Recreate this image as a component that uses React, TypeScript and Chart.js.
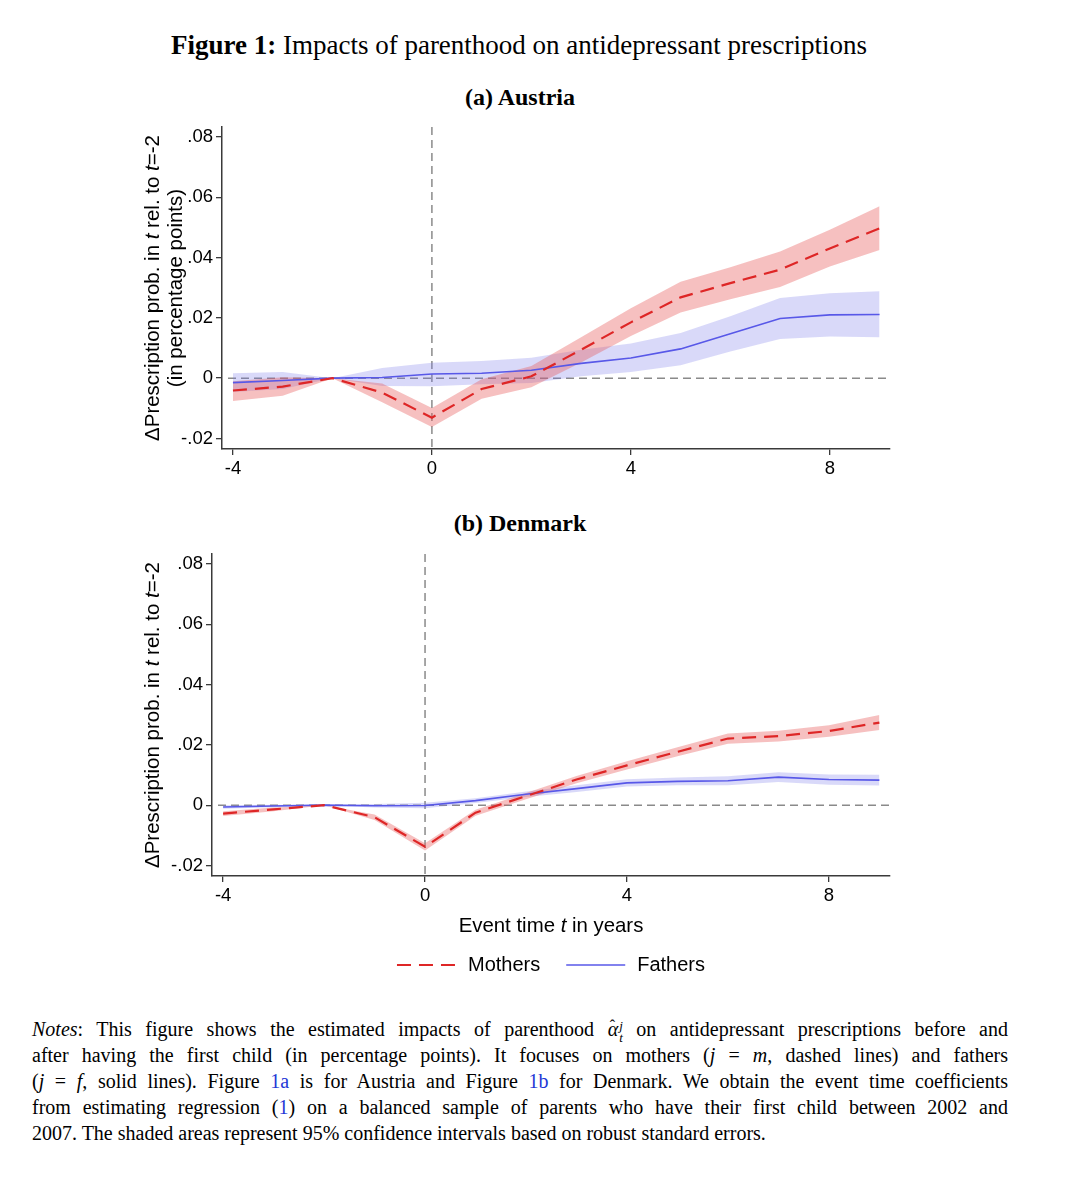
import React, { useEffect, useRef } from "react";
import { Chart, registerables } from "chart.js";

Chart.register(...registerables);

// ---------- data ----------
const eventTimes = [-4, -3, -2, -1, 0, 1, 2, 3, 4, 5, 6, 7, 8, 9];

const xTickValues = [-4, 0, 4, 8];
const xTickLabels = ["-4", "0", "4", "8"];
const yTickValues = [-0.02, 0, 0.02, 0.04, 0.06, 0.08];
const yTickLabels = ["-.02", "0", ".02", ".04", ".06", ".08"];
const xAxisRange = [-4.22, 9.21];
const yAxisRange = [-0.0235, 0.0833];
const referenceEventTime = 0;
const referenceDelta = 0;

const seriesNames = ["Mothers", "Fathers"];

// Austria
const austriaMothers = [-0.0041, -0.0028, 0, -0.0048, -0.0131, -0.0036, 0.0006, 0.0094, 0.0185, 0.0268, 0.0315, 0.036, 0.043, 0.0497];
const austriaMothersLow = [-0.0076, -0.0058, 0, -0.008, -0.0162, -0.0068, -0.003, 0.0052, 0.014, 0.0218, 0.0262, 0.0302, 0.037, 0.0425];
const austriaMothersHigh = [-0.001, 0.0003, 0, -0.0018, -0.0099, -0.0004, 0.004, 0.0136, 0.0232, 0.032, 0.0368, 0.042, 0.0492, 0.057];
const austriaFathers = [-0.0015, -0.0008, 0, 0.0002, 0.0014, 0.0016, 0.0026, 0.0049, 0.0067, 0.0097, 0.0147, 0.0198, 0.021, 0.0211];
const austriaFathersLow = [-0.0046, -0.0036, 0, -0.0026, -0.0027, -0.002, -0.0016, 0.0006, 0.002, 0.0043, 0.0088, 0.013, 0.0138, 0.0136];
const austriaFathersHigh = [0.0016, 0.002, 0, 0.0034, 0.0051, 0.0057, 0.0068, 0.0094, 0.0115, 0.015, 0.0205, 0.0266, 0.0282, 0.0288];

// Denmark
const denmarkMothers = [-0.0028, -0.0014, 0, -0.004, -0.0138, -0.0025, 0.003, 0.0085, 0.0132, 0.0177, 0.0221, 0.0229, 0.0246, 0.0274];
const denmarkMothersLow = [-0.0036, -0.002, 0, -0.0049, -0.015, -0.0035, 0.002, 0.0073, 0.0118, 0.0162, 0.0204, 0.0211, 0.0227, 0.0249];
const denmarkMothersHigh = [-0.002, -0.0008, 0, -0.0031, -0.0126, -0.0015, 0.004, 0.0097, 0.0146, 0.0192, 0.0238, 0.0247, 0.0265, 0.0299];
const denmarkFathers = [-0.0006, -0.0003, 0, -0.0002, -0.0001, 0.0015, 0.0036, 0.0055, 0.0074, 0.0079, 0.0081, 0.0093, 0.0085, 0.0083];
const denmarkFathersLow = [-0.0012, -0.0007, 0, -0.0008, -0.001, 0.0007, 0.0027, 0.0044, 0.0062, 0.0066, 0.0066, 0.0077, 0.0068, 0.0065];
const denmarkFathersHigh = [0.0, 0.0001, 0, 0.0004, 0.0008, 0.0023, 0.0045, 0.0066, 0.0086, 0.0092, 0.0096, 0.0109, 0.0102, 0.0101];

type Seg = { text: string; italic?: boolean };
const yTitleLine1: Seg[] = [
  { text: "\u0394Prescription prob. in " },
  { text: "t", italic: true },
  { text: " rel. to " },
  { text: "t", italic: true },
  { text: "=-2" },
];
const yTitleLine2: Seg[] = [{ text: "(in percentage points)" }];
const xTitle: Seg[] = [
  { text: "Event time " },
  { text: "t", italic: true },
  { text: " in years" },
];

// ---------- styles ----------
const SANS = "'Liberation Sans', Arial, Helvetica, sans-serif";
const SERIF = "'Liberation Serif', 'Times New Roman', serif";
const RED = "rgb(222, 38, 38)";
const RED_BAND = "rgba(232, 90, 90, 0.38)";
const BLUE = "rgb(88, 88, 232)";
const BLUE_BAND = "rgba(120, 120, 235, 0.28)";
const AXIS = "#3a3a3a";
const REF_GRAY = "#8a8a8a";
const LINK_BLUE = "#2438d6";

function segFont(size: number, italic?: boolean) {
  return `${italic ? "italic " : ""}${size}px ${SANS}`;
}

function drawSegments(ctx: CanvasRenderingContext2D, segs: Seg[], cx: number, cy: number, size: number) {
  let total = 0;
  const widths = segs.map((s) => {
    ctx.font = segFont(size, s.italic);
    const w = ctx.measureText(s.text).width;
    total += w;
    return w;
  });
  let x = cx - total / 2;
  ctx.textBaseline = "middle";
  ctx.textAlign = "left";
  ctx.fillStyle = "#000";
  segs.forEach((s, i) => {
    ctx.font = segFont(size, s.italic);
    ctx.fillText(s.text, x, cy);
    x += widths[i];
  });
}

type PanelSpec = {
  mothers: number[];
  mothersLow: number[];
  mothersHigh: number[];
  fathers: number[];
  fathersLow: number[];
  fathersHigh: number[];
  yTitleLines: Seg[][];
  yTitleX: number[];
  showXTitle: boolean;
  xTitleY: number;
  legendY: number;
  yAxisWidth: number;
  xAxisHeight: number;
  padding: { left: number; right: number; top: number; bottom: number };
};

function makePanelPlugin(spec: PanelSpec) {
  return {
    id: "panelDecor",
    beforeDatasetsDraw(chart: any) {
      const { ctx, chartArea: a, scales } = chart;
      const x0 = scales.x.getPixelForValue(referenceEventTime);
      const y0 = scales.y.getPixelForValue(referenceDelta);
      ctx.save();
      ctx.strokeStyle = REF_GRAY;
      ctx.lineWidth = 1.5;
      ctx.setLineDash([8, 5]);
      ctx.beginPath();
      ctx.moveTo(x0, a.top);
      ctx.lineTo(x0, a.bottom);
      ctx.stroke();
      ctx.beginPath();
      ctx.moveTo(a.left + 6, y0);
      ctx.lineTo(a.right, y0);
      ctx.stroke();
      ctx.restore();
    },
    afterDraw(chart: any) {
      const { ctx, chartArea: a } = chart;
      const midY = (a.top + a.bottom) / 2;
      ctx.save();
      spec.yTitleLines.forEach((line, i) => {
        ctx.save();
        ctx.translate(spec.yTitleX[i], midY);
        ctx.rotate(-Math.PI / 2);
        drawSegments(ctx, line, 0, 0, 20.5);
        ctx.restore();
      });
      if (spec.showXTitle) {
        const midX = (a.left + a.right) / 2;
        drawSegments(ctx, xTitle, midX, spec.xTitleY, 20.4);
        // legend
        const sample = 59;
        const gap = 12;
        const itemGap = 26;
        ctx.font = `20px ${SANS}`;
        const items = chart.data.datasets.filter((d: any) => seriesNames.includes(d.label));
        const widths = items.map((d: any) => sample + gap + ctx.measureText(d.label).width);
        const total = widths.reduce((s: number, w: number) => s + w, 0) + itemGap * (items.length - 1);
        let x = midX - total / 2;
        items.forEach((d: any, i: number) => {
          ctx.save();
          ctx.strokeStyle = d.borderColor;
          ctx.lineWidth = d.borderWidth;
          ctx.setLineDash(d.borderDash || []);
          ctx.beginPath();
          ctx.moveTo(x, spec.legendY);
          ctx.lineTo(x + sample, spec.legendY);
          ctx.stroke();
          ctx.restore();
          ctx.font = `20px ${SANS}`;
          ctx.fillStyle = "#000";
          ctx.textBaseline = "middle";
          ctx.textAlign = "left";
          ctx.fillText(d.label, x + sample + gap, spec.legendY);
          x += widths[i] + itemGap;
        });
      }
      ctx.restore();
    },
  };
}

function buildConfig(spec: PanelSpec): any {
  const pts = (vals: number[]) => eventTimes.map((t, i) => ({ x: t, y: vals[i] }));
  const band = (label: string, vals: number[], order: number, fill: any, color: string) => ({
    label,
    data: pts(vals),
    borderColor: "rgba(0,0,0,0)",
    borderWidth: 1,
    pointRadius: 0,
    backgroundColor: color,
    fill,
    order,
    tension: 0,
  });
  return {
    type: "line",
    data: {
      datasets: [
        {
          label: seriesNames[0],
          data: pts(spec.mothers),
          borderColor: RED,
          borderWidth: 2.2,
          borderDash: [14, 8],
          pointRadius: 0,
          fill: false,
          order: 0,
          tension: 0,
        },
        {
          label: seriesNames[1],
          data: pts(spec.fathers),
          borderColor: BLUE,
          borderWidth: 1.6,
          pointRadius: 0,
          fill: false,
          order: 1,
          tension: 0,
        },
        band("mothersLow", spec.mothersLow, 10, false, "rgba(0,0,0,0)"),
        band("mothersHigh", spec.mothersHigh, 11, 2, RED_BAND),
        band("fathersLow", spec.fathersLow, 12, false, "rgba(0,0,0,0)"),
        band("fathersHigh", spec.fathersHigh, 13, 4, BLUE_BAND),
      ],
    },
    options: {
      animation: false,
      responsive: false,
      devicePixelRatio: 1,
      layout: { padding: spec.padding },
      plugins: {
        legend: { display: false },
        tooltip: { enabled: false },
        filler: { propagate: false },
      },
      scales: {
        x: {
          type: "linear",
          min: xAxisRange[0],
          max: xAxisRange[1],
          afterBuildTicks: (s: any) => {
            s.ticks = xTickValues.map((v) => ({ value: v }));
          },
          afterFit: (s: any) => {
            s.height = spec.xAxisHeight;
          },
          ticks: {
            autoSkip: false,
            maxRotation: 0,
            padding: 3,
            color: "#000",
            font: { family: SANS, size: 18.5 },
            callback: (_v: any, i: number) => xTickLabels[i],
          },
          grid: { display: true, drawOnChartArea: false, drawTicks: true, tickLength: 6, color: AXIS, lineWidth: 1.3 },
          border: { display: true, color: AXIS, width: 1.5 },
          title: { display: false },
        },
        y: {
          type: "linear",
          min: yAxisRange[0],
          max: yAxisRange[1],
          afterBuildTicks: (s: any) => {
            s.ticks = yTickValues.map((v) => ({ value: v }));
          },
          afterFit: (s: any) => {
            s.width = spec.yAxisWidth;
          },
          ticks: {
            autoSkip: false,
            padding: 3,
            color: "#000",
            font: { family: SANS, size: 18.5 },
            callback: (_v: any, i: number) => yTickLabels[i],
          },
          grid: { display: true, drawOnChartArea: false, drawTicks: true, tickLength: 6, color: AXIS, lineWidth: 1.3 },
          border: { display: true, color: AXIS, width: 1.5 },
          title: { display: false },
        },
      },
    },
    plugins: [makePanelPlugin(spec)],
  };
}

function Panel({ spec, top, height }: { spec: PanelSpec; top: number; height: number }) {
  const ref = useRef<HTMLCanvasElement>(null);
  useEffect(() => {
    const chart = new Chart(ref.current as HTMLCanvasElement, buildConfig(spec));
    return () => chart.destroy();
  }, []);
  return (
    <canvas
      ref={ref}
      width={1079}
      height={height}
      style={{ position: "absolute", left: 0, top, width: 1079, height }}
    />
  );
}

const austriaSpec: PanelSpec = {
  mothers: austriaMothers,
  mothersLow: austriaMothersLow,
  mothersHigh: austriaMothersHigh,
  fathers: austriaFathers,
  fathersLow: austriaFathersLow,
  fathersHigh: austriaFathersHigh,
  yTitleLines: [yTitleLine1, yTitleLine2],
  yTitleX: [153, 176],
  showXTitle: false,
  xTitleY: 0,
  legendY: 0,
  yAxisWidth: 222,
  xAxisHeight: 41,
  padding: { left: 0, right: 189, top: 17, bottom: 0 },
};

const denmarkSpec: PanelSpec = {
  mothers: denmarkMothers,
  mothersLow: denmarkMothersLow,
  mothersHigh: denmarkMothersHigh,
  fathers: denmarkFathers,
  fathersLow: denmarkFathersLow,
  fathersHigh: denmarkFathersHigh,
  yTitleLines: [yTitleLine1],
  yTitleX: [153],
  showXTitle: true,
  xTitleY: 386,
  legendY: 425,
  yAxisWidth: 212,
  xAxisHeight: 40,
  padding: { left: 0, right: 189, top: 13, bottom: 84 },
};

const noteLine: React.CSSProperties = {
  textAlign: "justify",
  textAlignLast: "justify" as any,
  height: 26,
  whiteSpace: "nowrap",
};

function AlphaHat() {
  return (
    <span style={{ whiteSpace: "nowrap" }}>
      <span style={{ position: "relative", display: "inline-block" }}>
        <i>α</i>
        <span
          style={{
            position: "absolute",
            left: 2,
            top: 2,
            fontSize: 16,
            lineHeight: "16px",
          }}
        >
          ˆ
        </span>
      </span>
      <span
        style={{
          display: "inline-block",
          verticalAlign: "-0.45em",
          lineHeight: "12px",
          fontSize: 13,
          fontStyle: "italic",
          marginLeft: 1,
        }}
      >
        <span style={{ display: "block" }}>j</span>
        <span style={{ display: "block" }}>t</span>
      </span>
    </span>
  );
}

export default function App() {
  return (
    <div
      style={{
        position: "absolute",
        left: 0,
        top: 0,
        width: 1079,
        height: 1200,
        background: "#fff",
        overflow: "hidden",
      }}
    >
      <div
        style={{
          position: "absolute",
          left: 0,
          top: 30,
          width: 1038,
          textAlign: "center",
          fontFamily: SERIF,
          fontSize: 27,
          lineHeight: "30px",
          color: "#000",
        }}
      >
        <b>Figure 1:</b> Impacts of parenthood on antidepressant prescriptions
      </div>
      <div
        style={{
          position: "absolute",
          left: 0,
          top: 83,
          width: 1040,
          textAlign: "center",
          fontFamily: SERIF,
          fontSize: 24,
          fontWeight: "bold",
          lineHeight: "28px",
          color: "#000",
        }}
      >
        (a) Austria
      </div>
      <Panel spec={austriaSpec} top={110} height={380} />
      <div
        style={{
          position: "absolute",
          left: 0,
          top: 509,
          width: 1040,
          textAlign: "center",
          fontFamily: SERIF,
          fontSize: 24,
          fontWeight: "bold",
          lineHeight: "28px",
          color: "#000",
        }}
      >
        (b) Denmark
      </div>
      <Panel spec={denmarkSpec} top={540} height={460} />
      <div
        style={{
          position: "absolute",
          left: 32,
          top: 1016,
          width: 976,
          fontFamily: SERIF,
          fontSize: 20,
          lineHeight: "26px",
          color: "#000",
        }}
      >
        <div style={noteLine}>
          <i>Notes</i>: This figure shows the estimated impacts of parenthood <AlphaHat /> on antidepressant prescriptions before and
        </div>
        <div style={noteLine}>
          after having the first child (in percentage points). It focuses on mothers (<i>j</i> = <i>m</i>, dashed lines) and fathers
        </div>
        <div style={noteLine}>
          (<i>j</i> = <i>f</i>, solid lines). Figure <span style={{ color: LINK_BLUE }}>1a</span> is for Austria and Figure{" "}
          <span style={{ color: LINK_BLUE }}>1b</span> for Denmark. We obtain the event time coefficients
        </div>
        <div style={noteLine}>
          from estimating regression (<span style={{ color: LINK_BLUE }}>1</span>) on a balanced sample of parents who have their first child between 2002 and
        </div>
        <div style={{ height: 26, whiteSpace: "nowrap" }}>
          2007. The shaded areas represent 95% confidence intervals based on robust standard errors.
        </div>
      </div>
    </div>
  );
}
